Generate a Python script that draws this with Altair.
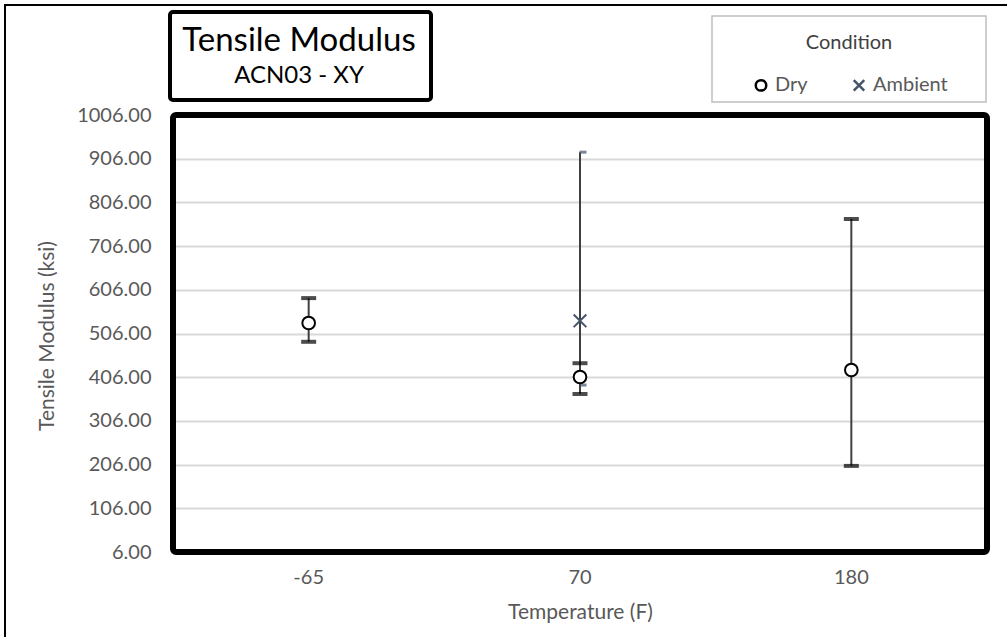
import altair as alt
import pandas as pd

# ---- data ----
temps = ["-65", "70", "180"]
conditions = ["Dry", "Ambient"]

dry_temps = ["-65", "70", "180"]
dry_mean = [530.0, 406.5, 422.5]
dry_low = [487.0, 367.5, 203.0]
dry_high = [587.0, 438.0, 768.0]

amb_temps = ["70"]
amb_mean = [535.0]
amb_low = [388.0]
amb_high = [921.0]

y_ticks = [6, 106, 206, 306, 406, 506, 606, 706, 806, 906, 1006]

title_text = "Tensile Modulus"
subtitle_text = "ACN03 - XY"

rows = []
for t, m, lo, hi in zip(dry_temps, dry_mean, dry_low, dry_high):
    rows.append({"temp": t, "cond": "Dry", "mean": m, "low": lo, "high": hi})
for t, m, lo, hi in zip(amb_temps, amb_mean, amb_low, amb_high):
    rows.append({"temp": t, "cond": "Ambient", "mean": m, "low": lo, "high": hi})
df = pd.DataFrame(rows)

FONT = "Lato"
W, H = 814, 437
X_SHAPE = "M-1,-1L1,1M1,-1L-1,1"

x_enc = alt.X(
    "temp:N",
    sort=temps,
    scale=alt.Scale(type="band", paddingInner=0, paddingOuter=0),
    axis=alt.Axis(
        title="Temperature (F)",
        labelAngle=0,
        domain=False,
        ticks=False,
        grid=False,
        labelPadding=15,
        titlePadding=14,
    ),
)
y_scale = alt.Scale(domain=[6, 1006], nice=False, zero=False)

base = alt.Chart(df)

grid_axis = alt.Axis(
    title="Tensile Modulus (ksi)",
    values=y_ticks,
    format=".2f",
    domain=False,
    ticks=False,
    grid=True,
    gridColor="#d9d9d9",
    gridWidth=2,
    labelPadding=22,
    titleX=-116,
    titleY=H / 2 + 2,
)

err = base.mark_rule(color="#404040", strokeWidth=2).encode(
    x=x_enc,
    y=alt.Y("low:Q", scale=y_scale, axis=grid_axis),
    y2="high:Q",
)

dry_df = df[df["cond"] == "Dry"]
amb_df = df[df["cond"] == "Ambient"]

dry_caps_lo = alt.Chart(dry_df).mark_tick(color="black", size=15, thickness=4).encode(
    x=alt.X("temp:N", sort=temps), y=alt.Y("low:Q", scale=y_scale))
dry_caps_hi = alt.Chart(dry_df).mark_tick(color="black", size=15, thickness=4).encode(
    x=alt.X("temp:N", sort=temps), y=alt.Y("high:Q", scale=y_scale))
amb_caps_lo = alt.Chart(amb_df).mark_tick(color="#44546a", size=7, thickness=3, xOffset=3).encode(
    x=alt.X("temp:N", sort=temps), y=alt.Y("low:Q", scale=y_scale))
amb_caps_hi = alt.Chart(amb_df).mark_tick(color="#44546a", size=7, thickness=3, xOffset=3).encode(
    x=alt.X("temp:N", sort=temps), y=alt.Y("high:Q", scale=y_scale))

points = base.mark_point(fill="white", filled=False, strokeWidth=2, size=160, opacity=1).encode(
    x=alt.X("temp:N", sort=temps),
    y=alt.Y("mean:Q", scale=y_scale),
    shape=alt.Shape("cond:N", scale=alt.Scale(domain=conditions, range=["circle", X_SHAPE]),
                    title="Condition"),
    stroke=alt.Stroke("cond:N", scale=alt.Scale(domain=conditions, range=["black", "#44546a"]),
                      title="Condition"),
)

one = df.head(1)
# decorative frames (outer border, title box, legend box, plot frame)
outer = alt.Chart(one).mark_rect(fill=None, stroke="black", strokeWidth=2).encode(
    x=alt.value(-168), x2=alt.value(845), y=alt.value(-110), y2=alt.value(530))
title_box = alt.Chart(one).mark_rect(fill=None, stroke="black", strokeWidth=4, cornerRadius=3).encode(
    x=alt.value(-3), x2=alt.value(258), y=alt.value(-103), y2=alt.value(-15))
legend_box = alt.Chart(one).mark_rect(fill=None, stroke="#bfbfbf", strokeWidth=1.5).encode(
    x=alt.value(539), x2=alt.value(813), y=alt.value(-99), y2=alt.value(-13))
frame = alt.Chart(one).mark_rect(fill=None, stroke="black", strokeWidth=6, cornerRadius=3).encode(
    x=alt.value(0), x2=alt.value(W), y=alt.value(0), y2=alt.value(H))

title_mark = alt.Chart(one).mark_text(
    text=title_text, font=FONT, fontSize=33, color="black", align="center", baseline="alphabetic"
).encode(x=alt.value(126), y=alt.value(-64))
subtitle_mark = alt.Chart(one).mark_text(
    text=subtitle_text, font=FONT, fontSize=24, color="black", align="center", baseline="alphabetic"
).encode(x=alt.value(126), y=alt.value(-32))

chart = alt.layer(
    outer, title_box, legend_box, title_mark, subtitle_mark,
    err, amb_caps_lo, amb_caps_hi, dry_caps_lo, dry_caps_hi, points,
    frame,
).properties(
    width=W,
    height=H,
    autosize="none",
    padding={"left": 173, "top": 115, "right": 20, "bottom": 85},
    background="white",
).configure_view(
    stroke=None
).configure_axis(
    labelFont=FONT,
    titleFont=FONT,
    labelFontSize=20,
    titleFontSize=21,
    labelColor="#595959",
    titleColor="#595959",
    titleFontWeight="normal",
).configure_legend(
    orient="none",
    legendX=578,
    legendY=-82,
    direction="horizontal",
    titleAnchor="middle",
    titleFont=FONT,
    titleFontSize=20,
    titleFontWeight="normal",
    titleColor="#404040",
    titlePadding=22,
    labelFont=FONT,
    labelFontSize=20,
    labelColor="#595959",
    symbolSize=110,
    symbolStrokeWidth=2.5,
    columnPadding=40,
    padding=0,
)

chart.save("out.html", embed_options={"renderer": "svg", "actions": False})
